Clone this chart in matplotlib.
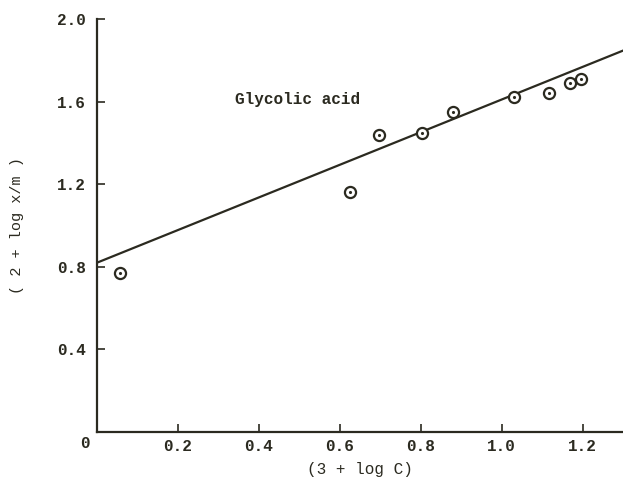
import numpy as np
import matplotlib.pyplot as plt

# data
conc = [0.057, 0.626, 0.698, 0.804, 0.881, 1.03, 1.116, 1.168, 1.196]
adsorbed = [0.77, 1.16, 1.44, 1.45, 1.55, 1.62, 1.64, 1.69, 1.71]
fit_intercept = 0.82
fit_slope = 0.79

xticks = [0.2, 0.4, 0.6, 0.8, 1.0, 1.2]
yticks = [0.4, 0.8, 1.2, 1.6, 2.0]

ink = '#2b2a20'
plt.rcParams['font.family'] = ['Liberation Mono', 'DejaVu Sans Mono']
plt.rcParams['font.weight'] = 'bold'

fig = plt.figure(figsize=(6.23, 4.79), dpi=100)
ax = fig.add_axes([0.1557, 0.0981, 0.8443, 0.8622])

xs = np.array([0, 1.32])
ax.plot(xs, fit_intercept + fit_slope * xs, color=ink, lw=1.6)
ax.plot(conc, adsorbed, 'o', ms=8, mfc='white', mec=ink, mew=1.6)
ax.plot(conc, adsorbed, '.', ms=2.5, color=ink)

ax.text(0.340, 1.61, 'Glycolic acid', fontsize=11.5, color=ink, va='center')

ax.set_xlim(0, 1.30)
ax.set_ylim(0, 2.0)
ax.set_xticks(xticks)
ax.set_yticks(yticks)
ax.set_xticklabels(['%.1f' % v for v in xticks])
ax.set_yticklabels(['%.1f' % v for v in yticks])
ax.tick_params(direction='in', length=6, width=1.2, colors=ink, labelsize=11.5)
ax.tick_params(axis='x', pad=5)
ax.tick_params(axis='y', pad=8)
for s in ['top', 'right']:
    ax.spines[s].set_visible(False)
for s in ['left', 'bottom']:
    ax.spines[s].set_color(ink)
    ax.spines[s].set_linewidth(1.6)

ax.text(-0.018, -0.018, '0', fontsize=11.5, color=ink, ha='right', va='top')
ax.set_xlabel('(3 + log C)', fontsize=11.5, color=ink, labelpad=6)
ax.set_ylabel('( 2 + log x/m )', fontsize=11, color=ink, labelpad=24)

fig.savefig('out.png', dpi=100)
